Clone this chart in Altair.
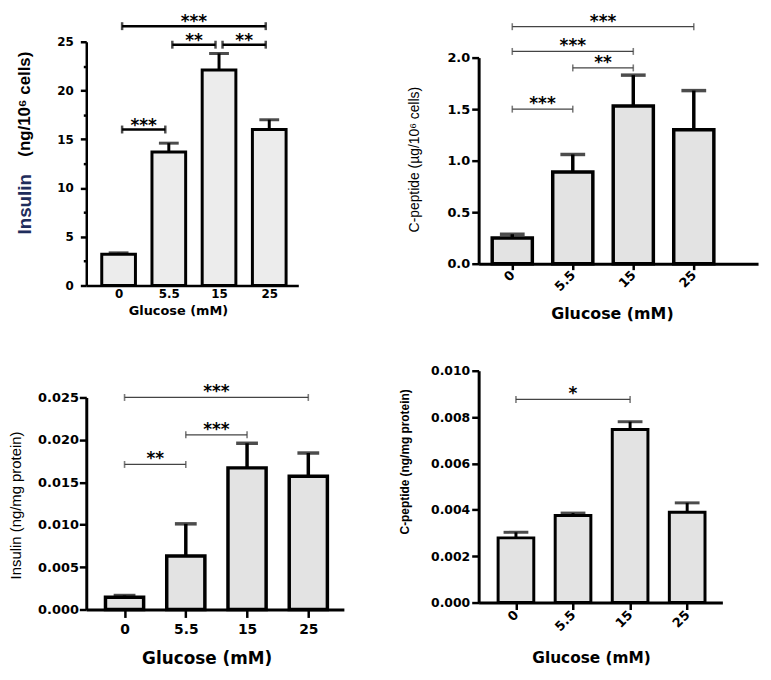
import json
import altair as alt
import pandas as pd

# ---------------- data ----------------
glucose = ["0", "5.5", "15", "25"]

insulin_cells = [3.2, 13.7, 22.1, 16.0]
insulin_cells_upper = [3.35, 14.6, 23.8, 17.0]

cpeptide_cells = [0.25, 0.89, 1.53, 1.30]
cpeptide_cells_upper = [0.286, 1.06, 1.83, 1.68]

insulin_protein = [0.00145, 0.0063, 0.0167, 0.0157]
insulin_protein_upper = [0.00165, 0.0101, 0.0196, 0.01845]

cpeptide_protein = [0.00279, 0.00376, 0.00746, 0.0039]
cpeptide_protein_upper = [0.00303, 0.00386, 0.0078, 0.0043]

# significance brackets: (from, to, height, label)
sig_insulin_cells = [("0", "25", 26.6, "***"), ("5.5", "15", 24.7, "**"),
                     ("15", "25", 24.7, "**"), ("0", "5.5", 16.0, "***")]
sig_cpeptide_cells = [("0", "25", 2.3, "***"), ("0", "15", 2.06, "***"),
                      ("5.5", "15", 1.9, "**"), ("0", "5.5", 1.5, "***")]
sig_insulin_protein = [("0", "25", 0.025, "***"), ("5.5", "15", 0.0206, "***"),
                       ("0", "5.5", 0.0171, "**")]
sig_cpeptide_protein = [("0", "15", 0.00876, "*")]

ticks_insulin_cells = [0, 2.5, 5, 7.5, 10, 12.5, 15, 17.5, 20, 22.5, 25]
ticks_cpeptide_cells = [0.0, 0.5, 1.0, 1.5, 2.0]
ticks_insulin_protein = [0.0, 0.005, 0.010, 0.015, 0.020, 0.025]
ticks_cpeptide_protein = [0.0, 0.002, 0.004, 0.006, 0.008, 0.010]

LABEL_FONT = "DejaVu Sans"
TITLE_FONT = "Liberation Sans"


def frame_rule(data, x1, x2, y1, y2):
    # invisible rule whose bounding box fixes the panel's layout box
    return alt.Chart(data).mark_rule(opacity=0, strokeWidth=0.01).encode(
        x=alt.value(x1), x2=alt.value(x2), y=alt.value(y1), y2=alt.value(y2))


def make_panel(means, uppers, sigs, ticks, p):
    n = len(glucose)
    df = pd.DataFrame({"idx": list(range(n)), "glucose": glucose,
                       "mean": means, "upper": uppers})
    pos = {g: i for i, g in enumerate(glucose)}
    ins = p["inset"]
    sig = pd.DataFrame({
        "x1": [pos[a] + ins for a, b, h, l in sigs],
        "x2": [pos[b] - ins for a, b, h, l in sigs],
        "h": [h for a, b, h, l in sigs],
        "label": [l for a, b, h, l in sigs],
    })
    sig["mid"] = (sig["x1"] + sig["x2"]) / 2

    xs = alt.Scale(domain=p["xdom"], nice=False, zero=False)
    ys = alt.Scale(domain=[ticks[0], ticks[-1]], nice=False, zero=False)

    xaxis_kw = dict(
        values=list(range(n)),
        labelExpr=f"{json.dumps(glucose)}[datum.value]",
        title=None, grid=False, domainColor="black", domainWidth=p["dw"],
        tickColor="black", tickWidth=2.5, ticks=p["xticks"], tickSize=p["xtick"],
        labelFont=LABEL_FONT, labelFontSize=p["xlfs"], labelFontWeight="bold",
        labelColor="black", labelPadding=p["xlpad"], labelFlush=False,
        labelAngle=p["langle"], labelOverlap=False,
    )
    if p["langle"] != 0:
        xaxis_kw.update(labelAlign="right", labelBaseline="middle")
    xaxis = alt.Axis(**xaxis_kw)

    yaxis_kw = dict(
        values=ticks, format=p["fmt"], title=None, grid=False,
        domainColor="black", domainWidth=p["dw"], tickColor="black",
        tickWidth=2.5, tickSize=p["ytick"], labelFont=LABEL_FONT,
        labelFontSize=p["ylfs"], labelFontWeight="bold", labelColor="black",
        labelPadding=p["ylpad"], labelOverlap=False, labelFlush=False,
    )
    if p.get("minor"):
        yaxis_kw["labelExpr"] = "datum.value % 5 === 0 ? datum.label : ''"
        yaxis_kw["tickSize"] = {"condition": {"test": "datum.value % 5 === 0",
                                              "value": p["ytick"]},
                                "value": 3}
    yaxis = alt.Axis(**yaxis_kw)

    def X(f):
        return alt.X(f, type="quantitative", scale=xs, axis=xaxis)

    def Y(f):
        return alt.Y(f, type="quantitative", scale=ys, axis=yaxis, stack=None)

    W, H = p["W"], p["H"]
    X0, X1, Y0, Y1 = p["frame"]

    frame = frame_rule(df.head(1), -X0, W + X1, -Y0, H + Y1)

    err = alt.Chart(df).mark_rule(color="black", strokeWidth=p["ew"]).encode(
        x=X("idx"), y=Y("mean"), y2="upper")
    cap = alt.Chart(df).mark_tick(orient="horizontal", color="black",
                                  size=p["capw"], thickness=p["ew"]).encode(
        x=X("idx"), y=Y("upper"))
    bars = alt.Chart(df).mark_bar(orient="vertical", size=p["bw"], fill=p["fill"],
                                  stroke="black", strokeWidth=p["sw"]).encode(
        x=X("idx"), y=Y("mean"))

    br = alt.Chart(sig).mark_rule(color=p["bc"], strokeWidth=p["bsw"]).encode(
        x=X("x1"), x2="x2", y=Y("h"))
    e1 = alt.Chart(sig).mark_tick(orient="vertical", color=p["bc"], size=p["endh"],
                                  thickness=p["endw"]).encode(x=X("x1"), y=Y("h"))
    e2 = alt.Chart(sig).mark_tick(orient="vertical", color=p["bc"], size=p["endh"],
                                  thickness=p["endw"]).encode(x=X("x2"), y=Y("h"))
    stars = alt.Chart(sig).mark_text(font=LABEL_FONT, fontSize=p["sfs"],
                                     fontWeight="bold", color="black",
                                     baseline="alphabetic", dy=p["sdy"]).encode(
        x=X("mid"), y=Y("h"), text="label")

    layers = [frame, err, cap, bars, br, e1, e2, stars]

    for t in p["ytitles"]:
        layers.append(
            alt.Chart(pd.DataFrame({"t": [t["text"]]})).mark_text(
                angle=270, align=t["align"], baseline="middle", font=TITLE_FONT,
                fontSize=t["size"], fontWeight=t["weight"], color=t["color"]
            ).encode(x=alt.value(t["x"]), y=alt.value(t["y"]), text="t"))

    xt = p["xtitle"]
    layers.append(
        alt.Chart(pd.DataFrame({"t": ["Glucose (mM)"]})).mark_text(
            align="center", baseline="middle", font=LABEL_FONT,
            fontSize=xt["size"], fontWeight="bold", color="black"
        ).encode(x=alt.value(xt["x"]), y=alt.value(xt["y"]), text="t"))

    return alt.layer(*layers).properties(width=W, height=H)


def spacer():
    return frame_rule(pd.DataFrame({"s": [0]}), 0, 1, 0, 1).properties(width=1, height=1)


panel_a = make_panel(insulin_cells, insulin_cells_upper, sig_insulin_cells,
                     ticks_insulin_cells, dict(
    W=214, H=246, xdom=[-0.545, 3.48], fmt="d", minor=True,
    frame=(78, 99, 30, 55), inset=0.07,
    dw=2.5, xticks=False, xtick=0, xlfs=12, xlpad=3, langle=0,
    ytick=6, ylfs=12, ylpad=7,
    bw=34, sw=3, fill="#ececec", ew=3, capw=20,
    bc="black", bsw=2.5, endh=8, endw=2.5, sfs=17, sdy=1,
    ytitles=[
        dict(text="Insulin", x=-62, y=164, align="center",
             size=19, weight="bold", color="#1f2d5c"),
        dict(text="(ng/10\u2076 cells)", x=-62, y=63, align="center",
             size=17, weight="bold", color="black"),
    ],
    xtitle=dict(x=93, y=272, size=13),
))

panel_b = make_panel(cpeptide_cells, cpeptide_cells_upper, sig_cpeptide_cells,
                     ticks_cpeptide_cells, dict(
    W=282, H=208, xdom=[-0.474, 3.98], fmt=".1f",
    frame=(83, 3, 46, 77), inset=0.0,
    dw=3, xticks=True, xtick=6, xlfs=13, xlpad=3, langle=315,
    ytick=7, ylfs=13, ylpad=2,
    bw=40.5, sw=3.5, fill="#e3e3e3", ew=3.5, capw=25,
    bc="#444444", bsw=1.3, endh=7, endw=1.6, sfs=17, sdy=0,
    ytitles=[
        dict(text="C-peptide (\u00b5g/10\u2076 cells)", x=-64, y=103, align="center",
             size=14, weight="normal", color="black"),
    ],
    xtitle=dict(x=135, y=259, size=16),
))

panel_c = make_panel(insulin_protein, insulin_protein_upper, sig_insulin_protein,
                     ticks_insulin_protein, dict(
    W=260, H=214, xdom=[-0.544, 3.50], fmt=".3f",
    frame=(79, 53, 58, 60), inset=0.0,
    dw=3, xticks=True, xtick=8, xlfs=14, xlpad=5, langle=0,
    ytick=7, ylfs=13, ylpad=1,
    bw=38.5, sw=3.5, fill="#e3e3e3", ew=3.5, capw=22,
    bc="#444444", bsw=1.3, endh=7, endw=1.6, sfs=17, sdy=0,
    ytitles=[
        dict(text="Insulin (ng/mg protein)", x=-71, y=109, align="center",
             size=15, weight="normal", color="black"),
    ],
    xtitle=dict(x=122, y=264, size=17),
))

panel_d = make_panel(cpeptide_protein, cpeptide_protein_upper, sig_cpeptide_protein,
                     ticks_cpeptide_protein, dict(
    W=246, H=234, xdom=[-0.567, 3.53], fmt=".3f",
    frame=(83, 41, 31, 65), inset=0.0,
    dw=3, xticks=True, xtick=7, xlfs=13, xlpad=3, langle=315,
    ytick=7, ylfs=12.5, ylpad=2,
    bw=36, sw=3, fill="#e3e3e3", ew=3, capw=25,
    bc="#444444", bsw=1.3, endh=7, endw=1.6, sfs=17, sdy=0,
    ytitles=[
        dict(text="C-peptide  (ng/mg protein)", x=-74, y=92, align="center",
             size=12, weight="bold", color="black"),
    ],
    xtitle=dict(x=114, y=290, size=15.5),
))

chart = alt.hconcat(
    alt.vconcat(spacer(), panel_a, panel_c, spacing=0),
    alt.vconcat(spacer(), panel_b, panel_d, spacing=0),
    spacing=0,
).properties(padding=0).configure_view(stroke=None)

chart.save("out.html", embed_options={"renderer": "svg", "actions": False})
